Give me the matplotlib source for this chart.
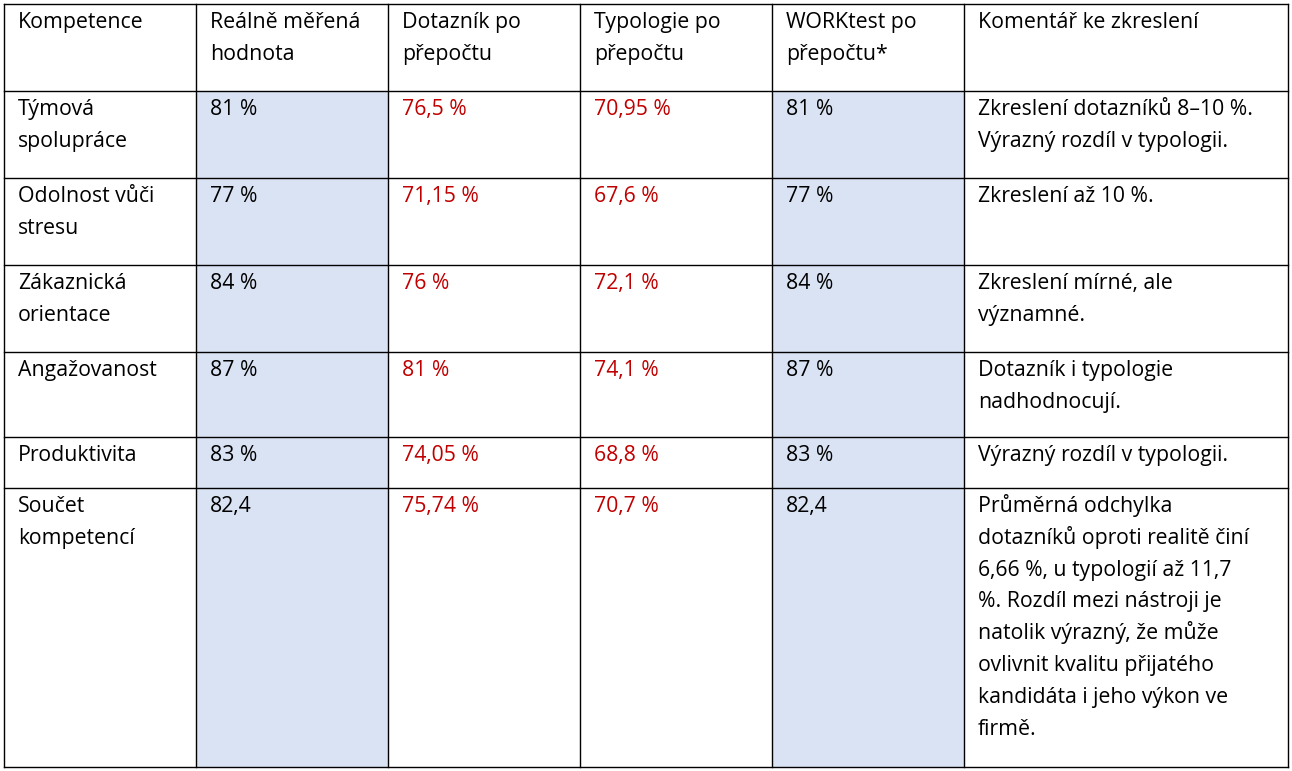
import matplotlib
matplotlib.use("Agg")
import matplotlib.pyplot as plt
from matplotlib.patches import Rectangle

headers = ["Kompetence", "Reálně měřená\nhodnota", "Dotazník po\npřepočtu", "Typologie po\npřepočtu", "WORKtest po\npřepočtu*", "Komentář ke zkreslení"]
competences = ["Týmová\nspolupráce", "Odolnost vůči\nstresu", "Zákaznická\norientace", "Angažovanost", "Produktivita", "Součet\nkompetencí"]
real = ["81 %", "77 %", "84 %", "87 %", "83 %", "82,4"]
questionnaire = ["76,5 %", "71,15 %", "76 %", "81 %", "74,05 %", "75,74 %"]
typology = ["70,95 %", "67,6 %", "72,1 %", "74,1 %", "68,8 %", "70,7 %"]
worktest = ["81 %", "77 %", "84 %", "87 %", "83 %", "82,4"]
comments = [
    "Zkreslení dotazníků 8–10 %.\nVýrazný rozdíl v typologii.",
    "Zkreslení až 10 %.",
    "Zkreslení mírné, ale\nvýznamné.",
    "Dotazník i typologie\nnadhodnocují.",
    "Výrazný rozdíl v typologii.",
    "Průměrná odchylka\ndotazníků oproti realitě činí\n6,66 %, u typologií až 11,7\n%. Rozdíl mezi nástroji je\nnatolik výrazný, že může\novlivnit kvalitu přijatého\nkandidáta i jeho výkon ve\nfirmě.",
]

W, H = 1292, 771
xs = [4, 196, 388, 580, 772, 964, 1288]
ys = [4, 91, 178, 265, 352, 437, 488, 767]
blue = "#DAE3F3"
red = "#C00000"
fs = 15.3
step = 31.8

fig = plt.figure(figsize=(W/100, H/100), dpi=100)
ax = fig.add_axes([0, 0, 1, 1])
ax.set_xlim(0, W); ax.set_ylim(H, 0); ax.axis("off")

for c in (1, 4):
    ax.add_patch(Rectangle((xs[c], ys[1]), xs[c+1]-xs[c], ys[-1]-ys[1], facecolor=blue, edgecolor="none"))
for x in xs:
    ax.plot([x, x], [ys[0], ys[-1]], color="black", lw=1)
for y in ys:
    ax.plot([xs[0], xs[-1]], [y, y], color="black", lw=1)

def txt(c, r, s, color="black"):
    for k, line in enumerate(s.split("\n")):
        ax.text(xs[c] + 14, ys[r] + 24 + k*step, line, fontsize=fs, va="baseline", ha="left",
                color=color, family="Open Sans")

for c, h in enumerate(headers):
    txt(c, 0, h)
for i in range(len(competences)):
    r = i + 1
    txt(0, r, competences[i])
    txt(1, r, real[i])
    txt(2, r, questionnaire[i], red)
    txt(3, r, typology[i], red)
    txt(4, r, worktest[i])
    txt(5, r, comments[i])

fig.savefig("out.png", dpi=100)
